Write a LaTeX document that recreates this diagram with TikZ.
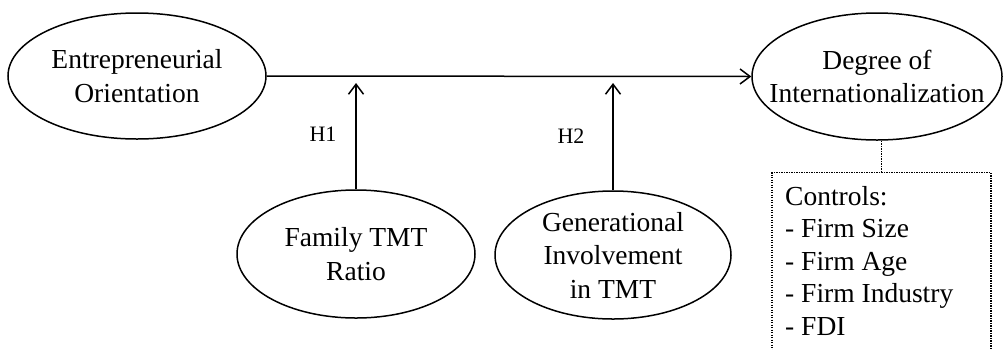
\documentclass[tikz,border=0pt]{standalone}
\usepackage{fontspec}
\setmainfont{Liberation Serif}
\usetikzlibrary{shapes.geometric,arrows.meta}

\tikzset{
  oval/.style={ellipse, draw, line width=1.5pt, inner sep=0pt},
  txt/.style={align=center, inner sep=0pt, font=\fontsize{27.5}{33.5}\selectfont},
  hyp/.style={inner sep=0pt, font=\fontsize{22}{26}\selectfont},
  link/.style={line width=1.5pt, -{Straight Barb[length=10pt,width=15pt,line width=1.5pt]}},
  ctrlbox/.style={draw, line width=1.3pt, dash pattern=on 1.2pt off 1.3pt, inner sep=0pt},
  ctrltxt/.style={align=left, inner sep=0pt, font=\fontsize{27.5}{32.5}\selectfont}
}

\begin{document}
\begin{tikzpicture}[x=1pt,y=-1pt]
\useasboundingbox (0,0) rectangle (1006,349);
\clip (0,0) rectangle (1006,349);

% constructs
\node[oval, minimum width=258pt, minimum height=126pt] (eo) at (137,76) {};
\node[txt] (eo-t) at (eo) {Entrepreneurial\\Orientation};

\node[oval, minimum width=250pt, minimum height=127pt] (doi) at (877,76.5) {};
\node[txt] (doi-t) at (doi) {Degree of\\Internationalization};

\node[oval, minimum width=238pt, minimum height=128pt] (ftmt) at (356,254) {};
\node[txt] (ftmt-t) at (ftmt) {Family TMT\\Ratio};

\node[oval, minimum width=236pt, minimum height=128pt] (gen) at (613,255) {};
\node[txt] (gen-t) at (gen) {Generational\\Involvement\\in TMT};

% main effect
\draw[link] (eo.east) -- (doi.west);

% moderators
\coordinate (t1) at (356,83);
\coordinate (t2) at (613,83);
\draw[link] (ftmt.north) -- (t1);
\draw[link] (gen.north) -- (t2);
\node[hyp] (h1) at (323,134) {H1};
\node[hyp] (h2) at (571,136) {H2};

% control variables
\node[ctrlbox, minimum width=219pt, minimum height=200pt, anchor=north] (ctrl) at (881.5,172) {};
\node[ctrltxt, anchor=north west] (ctrl-t) at (785,186)
  {Controls:\\- Firm Size\\- Firm Age\\- Firm Industry\\- FDI};
\draw[line width=1.3pt, dash pattern=on 1.2pt off 1.3pt] (ctrl.north) -- (ctrl.north |- doi.south);
\end{tikzpicture}
\end{document}
